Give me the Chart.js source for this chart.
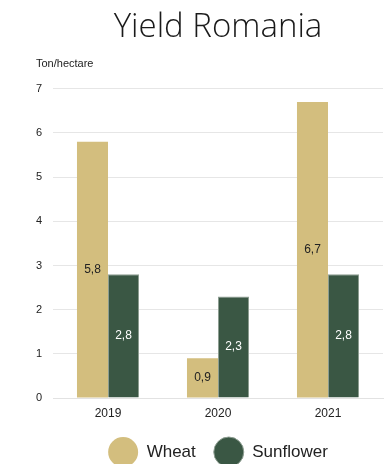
<!DOCTYPE html>
<html>
<head>
<meta charset="utf-8">
<script src="https://cdn.jsdelivr.net/npm/chart.js@4"></script>
<style>
  html, body { margin: 0; padding: 0; background: #fff; }
  #wrap { width: 392px; height: 464px; }
</style>
</head>
<body>
<div id="wrap"><canvas id="yield-chart"></canvas></div>
<script>
const years = ['2019', '2020', '2021'];
const wheat = [5.8, 0.9, 6.7];
const sunflower = [2.8, 2.3, 2.8];
const yTicks = [0, 1, 2, 3, 4, 5, 6, 7];

// write values with a comma, e.g. 5,8
function fmt(v) {
    return v.toFixed(1).replace('.', ',');
}

// value labels in the middle of every bar
const barLabels = {
    id: 'barLabels',
    afterDatasetsDraw(chart) {
        const ctx = chart.ctx;
        ctx.save();
        ctx.font = '12px "Liberation Sans", Arial, sans-serif';
        ctx.textAlign = 'center';
        ctx.textBaseline = 'middle';
        chart.data.datasets.forEach((ds, i) => {
            chart.getDatasetMeta(i).data.forEach((bar, j) => {
                ctx.fillStyle = ds.labelColor;
                ctx.fillText(fmt(ds.data[j]), bar.x, (bar.y + bar.base) / 2);
            });
        });
        ctx.restore();
    }
};

const ctx = document.getElementById('yield-chart').getContext('2d');

new Chart(ctx, {
    type: 'bar',
    data: {
        labels: years,
        datasets: [{
            label: 'Wheat',
            data: wheat,
            backgroundColor: '#D3BE7E',
            borderWidth: 0,
            labelColor: '#222222'
        }, {
            label: 'Sunflower',
            data: sunflower,
            backgroundColor: '#3A5744',
            borderColor: '#8E9E92',
            borderWidth: 1,
            labelColor: '#ffffff'
        }]
    },
    options: {
        responsive: true,
        maintainAspectRatio: false,
        animation: false,
        layout: {
            padding: { left: 36, right: 9, top: 0, bottom: -13 }
        },
        datasets: {
            bar: {
                categoryPercentage: 0.564,
                barPercentage: 1
            }
        },
        scales: {
            x: {
                grid: { display: false, drawTicks: false },
                border: { color: '#e2e2e2' },
                ticks: {
                    color: '#222',
                    padding: 8,
                    font: { family: '"Liberation Sans", Arial, sans-serif', size: 12 }
                },
                // only keep the padding above the year labels
                afterFit(axis) {
                    axis.height = 21;
                }
            },
            y: {
                min: 0,
                max: 7,
                afterBuildTicks(axis) {
                    axis.ticks = yTicks.map(v => ({ value: v }));
                },
                // fit() reserves the tick padding on both sides; keep only one
                afterFit(axis) {
                    axis.width = 17;
                },
                grid: { color: '#e6e6e6', drawTicks: false },
                border: { display: false },
                ticks: {
                    color: '#222',
                    padding: 11,
                    font: { family: '"Liberation Sans", Arial, sans-serif', size: 11 }
                }
            }
        },
        plugins: {
            title: {
                display: true,
                text: 'Yield Romania',
                fullSize: false,
                color: '#1a1a1a',
                padding: { top: 8, bottom: 0 },
                font: { family: '"Open Sans", sans-serif', size: 33, weight: 300 }
            },
            subtitle: {
                display: true,
                text: 'Ton/hectare',
                align: 'start',
                color: '#222',
                padding: { top: 10, bottom: 18 },
                font: { family: '"Liberation Sans", Arial, sans-serif', size: 11 }
            },
            legend: {
                position: 'bottom',
                fullSize: false,
                labels: {
                    boxWidth: 30,
                    boxHeight: 30,
                    useBorderRadius: true,
                    borderRadius: 15,
                    padding: 18,
                    color: '#222',
                    font: { family: '"Liberation Sans", Arial, sans-serif', size: 17 }
                }
            },
            tooltip: { enabled: false }
        }
    },
    plugins: [barLabels]
});
</script>
</body>
</html>
